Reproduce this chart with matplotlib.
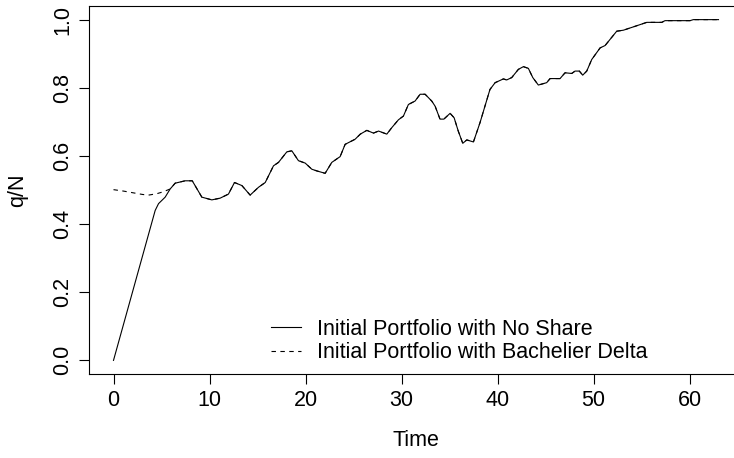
"""q/N over time: initial portfolio with no share vs. with Bachelier delta (R base-graphics look)."""
import matplotlib
matplotlib.use("Agg")
import matplotlib.pyplot as plt
import numpy as np

plt.rcParams.update({"font.family": ["Liberation Sans", "DejaVu Sans"], "font.size": 15.5})

# values
t_no_share = [0.0, 4.34, 4.69, 5.38, 5.9, 6.42, 7.46, 8.2, 9.2, 10.24, 11.1, 11.97, 12.6,
              13.37, 14.23, 15.1, 15.8, 16.66, 17.18, 18.05, 18.57, 19.26, 19.96, 20.65,
              21.17, 22.04, 22.73, 23.6, 24.12, 25.16, 25.7, 26.38, 27.07, 27.6, 28.46,
              28.98, 29.67, 30.19, 30.71, 31.4, 31.93, 32.45, 33.14, 33.49, 34.0, 34.4,
              35.05, 35.47, 35.9, 36.37, 36.79, 37.48, 38.17, 39.2, 39.74, 40.6, 40.95,
              41.47, 42.16, 42.68, 43.2, 43.66, 44.24, 45.11, 45.46, 46.5, 47.02, 47.72,
              48.06, 48.51, 48.86, 49.28, 49.8, 50.67, 51.19, 52.4, 53.1, 54.48, 55.53,
              57.1, 57.43, 60.04, 60.38, 63.0]
q_no_share = [0.0, 0.44, 0.46, 0.479, 0.503, 0.52, 0.527, 0.527, 0.479, 0.471, 0.476, 0.488,
              0.522, 0.513, 0.485, 0.508, 0.522, 0.571, 0.581, 0.612, 0.615, 0.586, 0.579,
              0.561, 0.556, 0.549, 0.581, 0.598, 0.634, 0.649, 0.664, 0.675, 0.667, 0.673,
              0.664, 0.683, 0.706, 0.717, 0.751, 0.761, 0.781, 0.781, 0.761, 0.746, 0.708,
              0.708, 0.725, 0.712, 0.673, 0.637, 0.647, 0.641, 0.698, 0.795, 0.815, 0.826,
              0.823, 0.83, 0.854, 0.862, 0.857, 0.83, 0.808, 0.815, 0.827, 0.827, 0.844,
              0.842, 0.849, 0.849, 0.837, 0.849, 0.883, 0.917, 0.924, 0.966, 0.969, 0.982,
              0.992, 0.992, 0.997, 0.997, 1.0, 1.0]

# Bachelier-delta start differs only over the first few time units, then follows the same path
t_delta_start = [0.0, 1.0, 2.0, 3.0, 3.64, 4.5, 5.2, 5.9]
q_delta_start = [0.501, 0.497, 0.492, 0.487, 0.485, 0.489, 0.495, 0.503]

labels = ["Initial Portfolio with No Share", "Initial Portfolio with Bachelier Delta"]

t_ns = np.array(t_no_share)
q_ns = np.array(q_no_share)
tail = t_ns > t_delta_start[-1]
t_delta = np.concatenate([t_delta_start, t_ns[tail]])
q_delta = np.concatenate([q_delta_start, q_ns[tail]])

W, H = 734, 458
fig = plt.figure(figsize=(W / 100, H / 100), dpi=100)
ax = fig.add_axes([89.3 / W, 1 - 374 / H, (742.7 - 89.3) / W, (374 - 6) / H])

ax.plot(t_ns, q_ns, color="black", linewidth=0.8, label=labels[0])
ax.plot(t_delta, q_delta, color="black", linewidth=0.8, dashes=(4, 4), label=labels[1])

ax.set_xlim(-2.52, 65.52)
ax.set_ylim(-0.04, 1.04)
ax.set_xticks(np.arange(0, 61, 10))
ax.set_yticks(np.arange(0, 1.01, 0.2))
ax.set_yticklabels([f"{v:.1f}" for v in np.arange(0, 1.01, 0.2)], rotation=90, va="center")
ax.tick_params(direction="out", length=7.5, width=0.8, pad=4)
for s in ax.spines.values():
    s.set_linewidth(0.8)

fig.text(18 / W, 1 - 190 / H, "q/N", rotation=90, ha="center", va="center")
fig.text(416 / W, 1 - 440 / H, "Time", ha="center", va="center")

ax.legend(loc="upper left", bbox_to_anchor=(271 / W, 1 - 319 / H), bbox_transform=fig.transFigure,
          frameon=False, borderpad=0, borderaxespad=0, handlelength=1.4, handletextpad=0.75,
          labelspacing=0.1)

fig.savefig("out.png", dpi=100)
